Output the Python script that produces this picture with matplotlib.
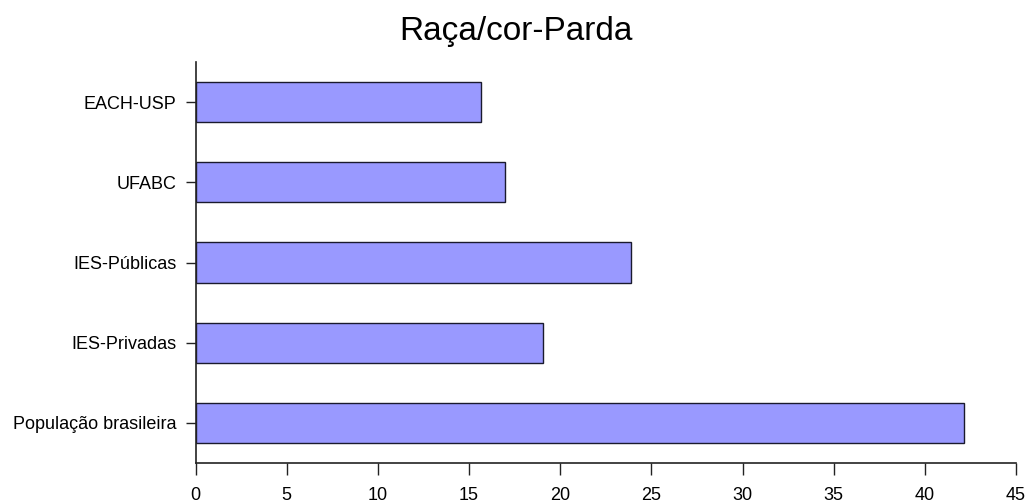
import matplotlib
matplotlib.use("Agg")
import matplotlib.pyplot as plt

plt.rcParams["font.family"] = ["Liberation Sans", "DejaVu Sans"]

# bottom to top
categories = ["População brasileira", "IES-Privadas", "IES-Públicas", "UFABC", "EACH-USP"]
values = [42.17, 19.05, 23.88, 16.97, 15.66]
xticks = [0, 5, 10, 15, 20, 25, 30, 35, 40, 45]


def main() -> None:
    fig = plt.figure(figsize=(10.31, 5.04), dpi=100)
    ax = fig.add_axes([0.1897, 0.0813, 0.7958, 0.7957])

    ax.barh(range(len(categories)), values, height=0.5, color="#9999FF",
            edgecolor="#1a1a2e", linewidth=1.0)

    ax.set_xlim(0, 45)
    ax.set_ylim(-0.5, 4.5)
    ax.set_xticks(xticks)
    ax.set_yticks(range(len(categories)), categories)

    for side in ("top", "right"):
        ax.spines[side].set_visible(False)
    for side in ("left", "bottom"):
        ax.spines[side].set_linewidth(1.2)
        ax.spines[side].set_color("#222222")

    ax.tick_params(axis="x", length=8.5, width=1.0, pad=8.5, labelsize=13, color="#222222")
    ax.tick_params(axis="y", length=7, width=1.0, pad=7, labelsize=13, color="#222222")

    fig.suptitle("Raça/cor-Parda", x=0.5, y=0.968, fontsize=24, va="top")

    fig.savefig("out.png", dpi=100)
    plt.close(fig)


if __name__ == "__main__":
    main()
